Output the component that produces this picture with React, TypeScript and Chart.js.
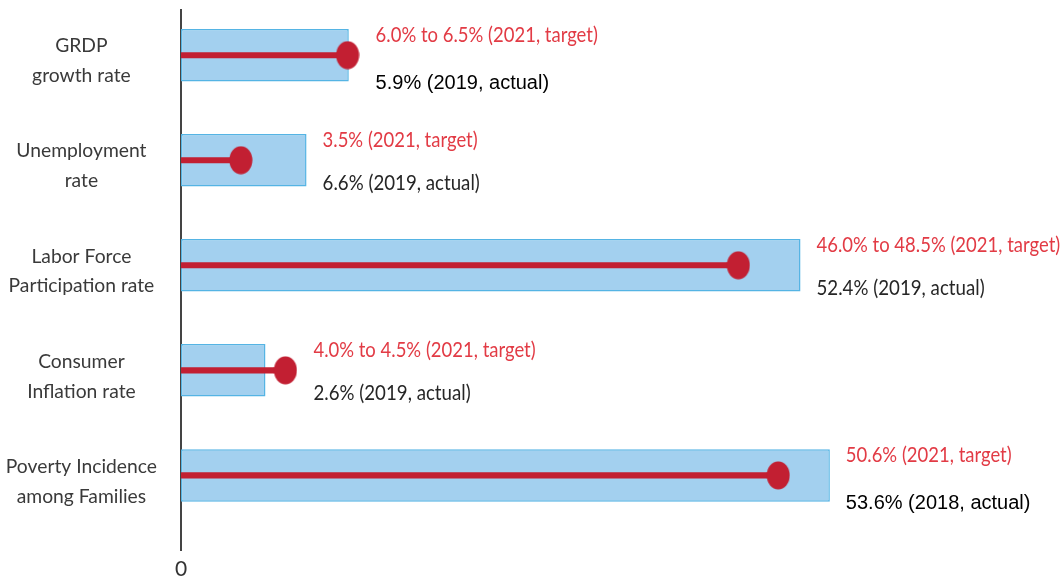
import React, { useEffect, useRef } from "react";
import { Chart, registerables } from "chart.js";

Chart.register(...registerables);

// Row labels (y axis categories, top to bottom)
const categories: string[][] = [
  ["GRDP", "growth rate"],
  ["Unemployment", "rate"],
  ["Labor Force", "Participation rate"],
  ["Consumer", "Inflation rate"],
  ["Poverty Incidence", "among Families"],
];

const actualBar: number[] = [14.3, 10.7, 52.8, 7.2, 55.3];
const targetDot: number[] = [14.2, 5.1, 47.5, 8.9, 50.9];

// Annotation texts
const targetLabels: string[] = [
  "6.0% to 6.5% (2021, target)",
  "3.5% (2021, target)",
  "46.0% to 48.5% (2021, target)",
  "4.0% to 4.5% (2021, target)",
  "50.6% (2021, target)",
];
const actualLabels: string[] = [
  "5.9% (2019, actual)",
  "6.6% (2019, actual)",
  "52.4% (2019, actual)",
  "2.6% (2019, actual)",
  "53.6% (2018, actual)",
];

const xTickValues: number[] = [0];

// rows whose "actual" text is set in a different (Arial-like, black) type
const arialRows = new Set<number>([0, 4]);

const RED = "#c21f32";
const TEXT_RED = "#e23b45";

function makeDot(): HTMLCanvasElement {
  const c = document.createElement("canvas");
  c.width = 24;
  c.height = 29;
  const g = c.getContext("2d")!;
  g.fillStyle = RED;
  g.beginPath();
  g.ellipse(12, 14.5, 11.5, 14, 0, 0, Math.PI * 2);
  g.fill();
  return c;
}

function drawText(
  ctx: CanvasRenderingContext2D,
  text: string,
  x: number,
  y: number,
  font: string,
  color: string,
  sx: number
) {
  ctx.save();
  ctx.font = font;
  ctx.fillStyle = color;
  ctx.textAlign = "left";
  ctx.textBaseline = "middle";
  ctx.translate(x, y);
  ctx.scale(sx, 1);
  ctx.fillText(text, 0, 0);
  ctx.restore();
}

const rowTextPlugin = {
  id: "rowText",
  afterDatasetsDraw(chart: any) {
    const { ctx } = chart;
    const xs = chart.scales.x;
    const ys = chart.scales.y;
    for (let i = 0; i < categories.length; i++) {
      const yc = ys.getPixelForValue(i);
      const left =
        Math.max(xs.getPixelForValue(actualBar[i]), xs.getPixelForValue(targetDot[i]) + 12) + 16;
      drawText(ctx, targetLabels[i], left, yc - 20, "21px Lato", TEXT_RED, 0.88);
      if (arialRows.has(i)) {
        drawText(ctx, actualLabels[i], left, yc + 28, '20px "Liberation Sans"', "#000", 1);
      } else {
        drawText(ctx, actualLabels[i], left, yc + 23, "21px Lato", "#262626", 0.89);
      }
    }
  },
};

export default function App() {
  const canvasRef = useRef<HTMLCanvasElement | null>(null);

  useEffect(() => {
    if (!canvasRef.current) return;
    const dot = makeDot();
    const idx = categories.map((_, i) => i);

    const chart = new Chart(canvasRef.current, {
      type: "bar",
      data: {
        datasets: [
          {
            type: "bar",
            label: "actual",
            data: idx.map((i) => ({ x: actualBar[i], y: i })) as any,
            backgroundColor: "#a3d0ef",
            borderColor: "#55b4e4",
            borderWidth: 1.5,
            borderSkipped: false,
            grouped: false,
            barPercentage: 0.5,
            categoryPercentage: 1,
            order: 3,
          } as any,
          {
            type: "bar",
            label: "target line",
            data: idx.map((i) => ({ x: [0, targetDot[i]], y: i })) as any,
            backgroundColor: RED,
            borderWidth: 0,
            grouped: false,
            barPercentage: 0.058,
            categoryPercentage: 1,
            order: 2,
          } as any,
          {
            type: "scatter",
            label: "target",
            data: idx.map((i) => ({ x: targetDot[i], y: i })) as any,
            pointStyle: dot as any,
            pointRadius: 12,
            pointHoverRadius: 12,
            showLine: false,
            order: 1,
          } as any,
        ],
      },
      options: {
        indexAxis: "y",
        animation: false,
        responsive: true,
        maintainAspectRatio: false,
        layout: { autoPadding: false, padding: { top: 10, left: 0, right: 0, bottom: 0 } },
        plugins: {
          legend: { display: false },
          tooltip: { enabled: false },
        },
        scales: {
          x: {
            type: "linear",
            min: 0,
            max: 75,
            grid: { display: false, drawTicks: false },
            border: { display: false },
            afterBuildTicks: (s: any) => {
              s.ticks = xTickValues.map((v) => ({ value: v }));
            },
            afterFit: (s: any) => {
              s.height = 31;
              s.paddingLeft = 0;
              s.paddingRight = 0;
            },
            ticks: {
              padding: 7,
              color: "#333",
              autoSkip: false,
              maxRotation: 0,
              font: { family: "Lato", size: 21 },
            },
          },
          y: {
            type: "linear",
            reverse: true,
            offset: false,
            min: -0.43,
            max: 4.71,
            grid: { display: false, drawTicks: false },
            border: { display: true, color: "#444", width: 2 },
            afterBuildTicks: (s: any) => {
              s.ticks = categories.map((_, i) => ({ value: i }));
            },
            afterFit: (s: any) => {
              s.width = 181;
              s.paddingTop = 0;
              s.paddingBottom = 0;
            },
            ticks: {
              crossAlign: "center",
              padding: 24,
              labelOffset: 6,
              color: "#3a3a3a",
              autoSkip: false,
              font: { family: "Lato", size: 19.3, lineHeight: 1.55 },
              callback: (v: any) => categories[Number(v)] ?? "",
            },
          },
        },
      } as any,
      plugins: [rowTextPlugin],
    });

    return () => chart.destroy();
  }, []);

  return (
    <div
      style={{
        position: "fixed",
        left: 0,
        top: 0,
        width: 1061,
        height: 581,
        background: "#fff",
      }}
    >
      <canvas ref={canvasRef} />
    </div>
  );
}
